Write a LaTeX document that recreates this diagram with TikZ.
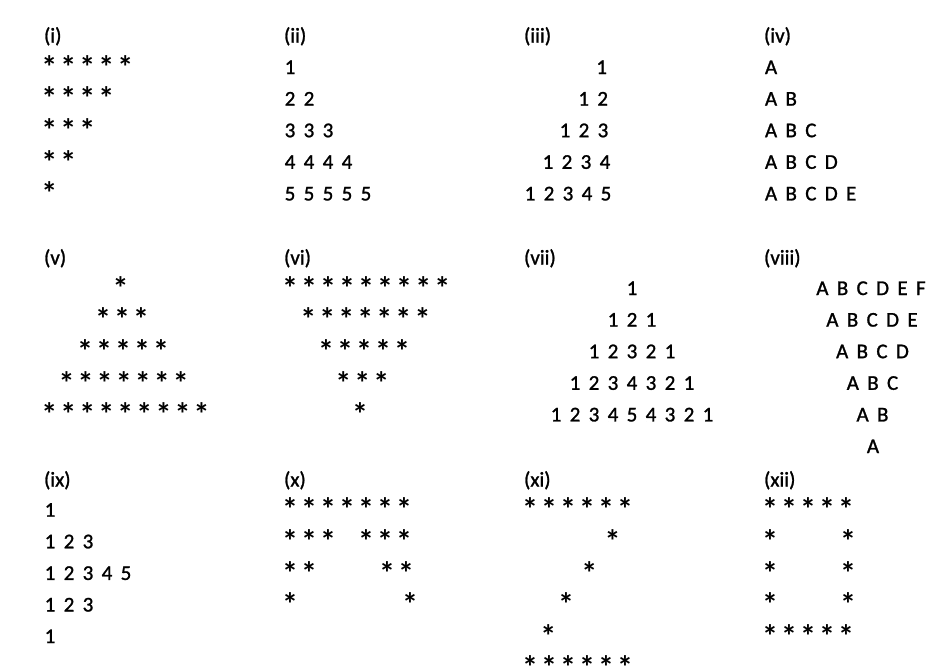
\documentclass[tikz,border=0pt]{standalone}
\usepackage{fontspec}
\setmainfont{Carlito}
\newfontfamily\rowfam{Carlito}[FakeBold=1.2]
\newfontfamily\starfam{Carlito Bold}
\newcommand\rowfont{\rowfam\fontsize{21}{25}\selectfont\spaceskip=8.35pt plus 0pt minus 0pt\relax}
\newcommand\starfont{\starfam\fontsize{32}{36}\selectfont\spaceskip=3.1pt plus 0pt minus 0pt\relax}
\tikzset{
  txt/.style={inner sep=0pt, outer sep=0pt, anchor=base west, font=\rowfont},
  ctr/.style={txt, anchor=base},
  rgt/.style={txt, anchor=base east},
  star/.style={txt, font=\starfont, xshift=-2.8pt, yshift=-4.2pt}
}
\begin{document}
\begin{tikzpicture}[x=1pt,y=-1pt]
\fill[white] (0,0) rectangle (936,670);
\useasboundingbox (0,0) rectangle (936,670);
% labels
\node[txt] (Li)    at (44,42.5)  {(i)};
\node[txt] (Lii)   at (284,42.5) {(ii)};
\node[txt] (Liii)  at (524,42.5) {(iii)};
\node[txt] (Liv)   at (764,42.5) {(iv)};
\node[txt] (Lv)    at (44,264.5)  {(v)};
\node[txt] (Lvi)   at (284,264.5) {(vi)};
\node[txt] (Lvii)  at (524,264.5) {(vii)};
\node[txt] (Lviii) at (764,264.5) {(viii)};
\node[txt] (Lix)   at (44,486.5)  {(ix)};
\node[txt] (Lx)    at (284,486.5) {(x)};
\node[txt] (Lxi)   at (524,486.5) {(xi)};
\node[txt] (Lxii)  at (764,486.5) {(xii)};
% (i)
\node[star] (i1) at (44.1,74)    {* * * * *};
\node[star] (i2) at (44.1,105.6) {* * * *};
\node[star] (i3) at (44.1,137.2) {* * *};
\node[star] (i4) at (44.1,168.8) {* *};
\node[star] (i5) at (44.1,200.4) {*};
% (ii)
\node[txt] (ii1) at (284.7,74)    {1};
\node[txt] (ii2) at (284.7,105.6) {2 2};
\node[txt] (ii3) at (284.7,137.2) {3 3 3};
\node[txt] (ii4) at (284.7,168.8) {4 4 4 4};
\node[txt] (ii5) at (284.7,200.4) {5 5 5 5 5};
% (iii)
\node[rgt] (iii1) at (607,74)      {1};
\node[rgt] (iii2) at (608,105.6)   {1 2};
\node[rgt] (iii3) at (608.3,137.2) {1 2 3};
\node[rgt] (iii4) at (610.3,168.8) {1 2 3 4};
\node[rgt] (iii5) at (611.3,200.4) {1 2 3 4 5};
% (iv)
\node[txt] (iv1) at (765,74)    {A};
\node[txt] (iv2) at (765,105.6) {A B};
\node[txt] (iv3) at (765,137.2) {A B C};
\node[txt] (iv4) at (765,168.8) {A B C D};
\node[txt] (iv5) at (765,200.4) {A B C D E};
% (v)
\node[star] (v1) at (115.5,295)   {*};
\node[star] (v2) at (97.8,326.6)  {* * *};
\node[star] (v3) at (79.8,358.2)  {* * * * *};
\node[star] (v4) at (61.5,389.8)  {* * * * * * *};
\node[star] (v5) at (44.1,421.4)  {* * * * * * * * *};
% (vi)
\node[star] (vi1) at (284.8,295)   {* * * * * * * * *};
\node[star] (vi2) at (303.1,326.6) {* * * * * * *};
\node[star] (vi3) at (320.8,358.2) {* * * * *};
\node[star] (vi4) at (338.1,389.8) {* * *};
\node[star] (vi5) at (354.8,421.4) {*};
% (vii)
\node[ctr] (vii1) at (632,295)   {1};
\node[ctr] (vii2) at (632,326.6) {1 2 1};
\node[ctr] (vii3) at (632,358.2) {1 2 3 2 1};
\node[ctr] (vii4) at (632,389.8) {1 2 3 4 3 2 1};
\node[ctr] (vii5) at (632,421.4) {1 2 3 4 5 4 3 2 1};
% (viii)
\node[ctr] (viii1) at (871,295)   {A B C D E F};
\node[ctr] (viii2) at (872,326.6) {A B C D E};
\node[ctr] (viii3) at (872.5,358.2) {A B C D};
\node[ctr] (viii4) at (872.5,389.8) {A B C};
\node[ctr] (viii5) at (872.5,421.4) {A B};
\node[ctr] (viii6) at (873,453)   {A};
% (ix)
\node[txt] (ix1) at (44.7,516.7) {1};
\node[txt] (ix2) at (44.7,548.3) {1 2 3};
\node[txt] (ix3) at (44.7,579.9) {1 2 3 4 5};
\node[txt] (ix4) at (44.7,611.5) {1 2 3};
\node[txt] (ix5) at (44.7,643.1) {1};
% (x)
\node[star] (x1) at (284.8,516.7) {* * * * * * *};
\node[star] (x2) at (284.8,548.3) {* * * \phantom{*} * * *};
\node[star] (x3) at (284.8,579.9) {* * \phantom{* * *}\hspace{2pt} * *};
\node[star] (x4) at (284.8,611.5) {* \phantom{* * * * *}\hspace{6pt} *};
% (xi)
\node[star] (xi1) at (524.8,516.7) {* * * * * *};
\node[star] (xi2) at (607.5,548.3) {*};
\node[star] (xi3) at (584.1,579.9) {*};
\node[star] (xi4) at (560.8,611.5) {*};
\node[star] (xi5) at (543.1,643.1) {*};
\node[star] (xi6) at (524.8,674.7) {* * * * * *};
% (xii)
\node[star] (xii1) at (764.8,516.7) {* * * * *};
\node[star] (xii2) at (764.8,548.3) {* \phantom{* * *}\hspace{2pt} *};
\node[star] (xii3) at (764.8,579.9) {* \phantom{* * *}\hspace{2pt} *};
\node[star] (xii4) at (764.8,611.5) {* \phantom{* * *}\hspace{2pt} *};
\node[star] (xii5) at (764.8,643.1) {* * * * *};
\end{tikzpicture}
\end{document}
